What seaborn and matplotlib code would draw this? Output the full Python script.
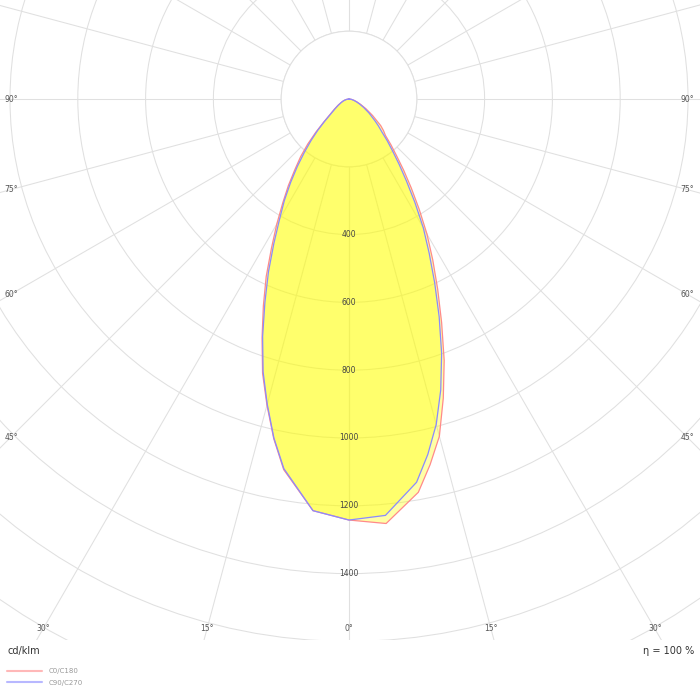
import numpy as np
import pandas as pd
import matplotlib
matplotlib.use("Agg")
import matplotlib.pyplot as plt
from matplotlib.patches import Circle
from matplotlib.lines import Line2D
import seaborn as sns

# luminous intensity, cd/klm, by gamma angle (deg)
gamma = [0, 5, 10, 12.5, 15, 17.5, 20, 22.5, 25, 27.5, 30, 32.5, 35, 37.5, 40, 42.5,
         45, 47.5, 50, 55, 60, 65, 70, 75, 80, 85, 90]
c0 = [1242, 1257, 1178, 1105, 1030, 925, 821, 714, 619, 535, 460, 385, 320, 265, 218, 183,
      152, 138, 122, 85, 58, 38, 25, 16, 9, 4, 0]
c180 = [1242, 1219, 1110, 1026, 935, 848, 750, 660, 578, 495, 426, 364, 312, 262, 222, 180,
        138, 102, 78, 53, 38, 27, 20, 14, 8, 3, 0]
c90 = [1242, 1233, 1148, 1074, 994, 900, 799, 695, 598, 512, 438, 362, 296, 243, 200, 167,
       137, 118, 100, 72, 50, 34, 22, 14, 8, 3, 0]
c270 = [1242, 1219, 1107, 1024, 932, 843, 745, 648, 562, 480, 410, 355, 300, 250, 204, 165,
        130, 98, 74, 50, 36, 26, 19, 13, 7, 3, 0]

ring_values = [400, 600, 800, 1000, 1200, 1400]
side_angles = [90, 75, 60, 45]
bottom_angles = [30, 15, 0]
plane_names = ["C0/C180", "C90/C270"]

red = "#ff8a8a"
blue = "#8a8aff"

sns.set_theme(style="white")
plt.rcParams["font.family"] = ["DejaVu Sans"]

scale = 0.339  # px per cd
cx, cy = 349, 99
x0, x1 = -cx / scale, (700 - cx) / scale
y1, y0 = cy / scale, -(640 - cy) / scale

fig = plt.figure(figsize=(7, 7), dpi=100)
ax = fig.add_axes([0, 60 / 700, 1, 640 / 700])

# grid
grid_c = "#e0e0e0"
for r in range(200, 3200, 200):
    ax.add_patch(Circle((0, 0), r, fill=False, ec=grid_c, lw=0.75, zorder=1))
for g in range(0, 181, 15):
    t = np.radians(g)
    for sgn in (-1, 1):
        ax.plot([sgn * 200 * np.sin(t), sgn * 3200 * np.sin(t)],
                [-200 * np.cos(t), -3200 * np.cos(t)], color=grid_c, lw=0.75, zorder=1)
ax.add_patch(Circle((0, 0), 200, fc="white", ec=grid_c, lw=0.75, zorder=2))


def outline(left, right):
    g = np.radians(np.array(gamma))
    lx = -np.array(left) * np.sin(g)
    ly = -np.array(left) * np.cos(g)
    rx = np.array(right) * np.sin(g)
    ry = -np.array(right) * np.cos(g)
    xs = np.concatenate([lx[::-1], rx[1:]])
    ys = np.concatenate([ly[::-1], ry[1:]])
    return xs, ys


rows = []
for name, (left, right) in zip(plane_names, [(c180, c0), (c270, c90)]):
    xs, ys = outline(left, right)
    ax.fill(xs, ys, color="#ffff00", alpha=0.35, lw=0, zorder=3)
    rows.append(pd.DataFrame({"x": xs, "y": ys, "plane": name}))
df = pd.concat(rows, ignore_index=True)

sns.lineplot(data=df, x="x", y="y", hue="plane", palette=[red, blue], sort=False,
             estimator=None, units="plane", lw=0.9, legend=False, ax=ax, zorder=4)
ax.set_xlim(x0, x1)
ax.set_ylim(y0, y1)
ax.set_axis_off()

for v in ring_values:
    ax.text(0, -v, str(v), ha="center", va="center", fontsize=5.5, color="#444444", zorder=5)

side_dx = 338 / scale
for a in side_angles:
    dy = side_dx / np.tan(np.radians(a)) if a != 90 else 0
    for sgn in (-1, 1):
        ax.text(sgn * side_dx, -dy, f"{a}°", ha="center", va="center", fontsize=5.5,
                color="#555555", zorder=5)
bot_dy = 530 / scale
for a in bottom_angles:
    dx = bot_dy * np.tan(np.radians(a))
    for sgn in ((-1, 1) if a else (1,)):
        ax.text(sgn * dx, -bot_dy, f"{a}°", ha="center", va="center", fontsize=5.5,
                color="#555555", zorder=5)

fig.text(7 / 700, 1 - 651 / 700, "cd/klm", ha="left", va="center", fontsize=7, color="#333333")
fig.text(694 / 700, 1 - 651 / 700, "η = 100 %", ha="right", va="center", fontsize=7, color="#333333")

handles = [Line2D([], [], color="#ffb8b8", lw=1.5), Line2D([], [], color="#b8b8ff", lw=1.5)]
fig.legend(handles, plane_names, loc="upper left", bbox_to_anchor=(7 / 700, 1 - 668 / 700),
           frameon=False, fontsize=5, handlelength=5, handletextpad=1.0, labelspacing=0.85,
           borderpad=0, borderaxespad=0, labelcolor="#999999")

fig.savefig("out.png", dpi=100)
